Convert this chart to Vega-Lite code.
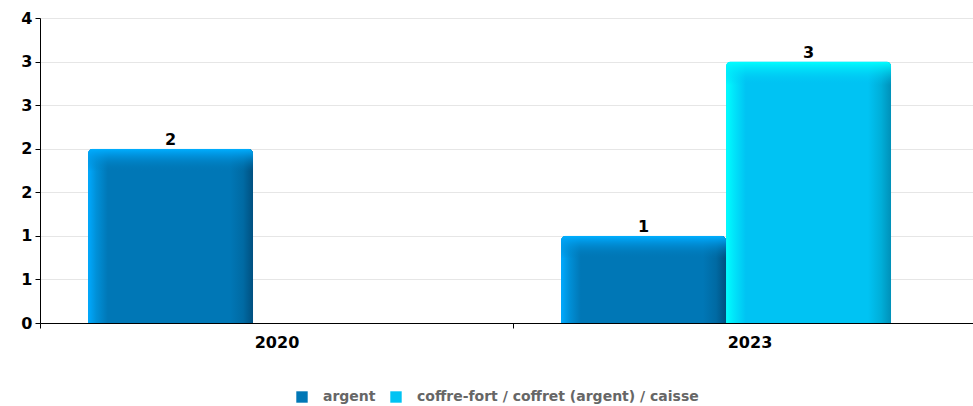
{
  "$schema": "https://vega.github.io/schema/vega-lite/v6.json",
  "autosize": "none",
  "width": 933,
  "height": 305,
  "padding": {"left": 40, "top": 18, "right": 0, "bottom": 83},
  "background": "white",
  "config": {"font": "DejaVu Sans", "view": {"stroke": null}},
  "data": {"values": [
    {"annee": "2020", "type": "argent", "valeur": 2},
    {"annee": "2023", "type": "argent", "valeur": 1},
    {"annee": "2023", "type": "coffre-fort / coffret (argent) / caisse", "valeur": 3}
  ]},
  "encoding": {
    "x": {"field": "annee", "type": "nominal", "scale": {"paddingInner": 0, "paddingOuter": 0, "range": [0, 946]},
      "axis": {"title": null, "labelAngle": 0, "labelFontWeight": "bold", "labelFontSize": 16, "labelColor": "black", "labelPadding": 6, "tickBand": "extent", "tickSize": 5, "tickColor": "black", "domainColor": "black", "grid": false}},
    "xOffset": {"field": "type", "type": "nominal", "scale": {"domain": ["argent", "coffre-fort / coffret (argent) / caisse"], "paddingInner": 0, "paddingOuter": 0.433, "align": 0.336}},
    "y": {"field": "valeur", "type": "quantitative", "scale": {"domain": [0, 3.5], "nice": false},
      "axis": {"title": null, "values": [0, 0.5, 1, 1.5, 2, 2.5, 3, 3.5], "labelExpr": "'' + round(datum.value)", "labelFontWeight": "bold", "labelFontSize": 16, "labelColor": "black", "labelPadding": 3, "tickSize": 5, "tickColor": "black", "domainColor": "black", "gridColor": "#e6e6e6", "labelOverlap": false}}
  },
  "layer": [
    {"mark": {"type": "bar", "cornerRadiusTopLeft": 5, "cornerRadiusTopRight": 5},
     "encoding": {"color": {"field": "type", "type": "nominal",
       "scale": {"domain": ["argent", "coffre-fort / coffret (argent) / caisse"], "range": ["#0077b6", "#00c3f3"]},
       "legend": {"orient": "none", "direction": "horizontal", "legendX": 255, "legendY": 372, "title": null, "symbolType": "square", "symbolSize": 130, "symbolStrokeWidth": 0, "labelFontWeight": "bold", "labelFontSize": 14, "labelColor": "#666666", "labelLimit": 0, "columnPadding": 13, "labelOffset": 14}}}},
    {"transform": [{"filter": "datum.type === 'argent'"}],
     "mark": {"type": "bar", "cornerRadiusTopLeft": 5, "cornerRadiusTopRight": 5,
       "color": {"gradient": "linear", "x1": 0, "y1": 0, "x2": 1, "y2": 0, "stops": [
         {"offset": 0, "color": "#00aaff"}, {"offset": 0.05, "color": "#0090d8"}, {"offset": 0.12, "color": "#0077b6"},
         {"offset": 0.86, "color": "#0077b6"}, {"offset": 0.94, "color": "#006aa3"}, {"offset": 1, "color": "#005080"}]}}},
    {"transform": [{"filter": "datum.type !== 'argent'"}],
     "mark": {"type": "bar", "cornerRadiusTopLeft": 5, "cornerRadiusTopRight": 5,
       "color": {"gradient": "linear", "x1": 0, "y1": 0, "x2": 1, "y2": 0, "stops": [
         {"offset": 0, "color": "#00ffff"}, {"offset": 0.05, "color": "#00e4fa"}, {"offset": 0.12, "color": "#00c3f3"},
         {"offset": 0.86, "color": "#00c3f3"}, {"offset": 0.94, "color": "#00aed8"}, {"offset": 1, "color": "#0090b8"}]}}},
    {"transform": [{"filter": "datum.type === 'argent' && datum.annee === '2020'"}],
     "mark": {"type": "bar", "cornerRadiusTopLeft": 5, "cornerRadiusTopRight": 5,
       "color": {"gradient": "linear", "x1": 0, "y1": 0, "x2": 0, "y2": 1, "stops": [
         {"offset": 0, "color": "rgba(0,175,255,1)"}, {"offset": 0.03, "color": "rgba(0,160,240,0.8)"}, {"offset": 0.13, "color": "rgba(0,119,182,0)"}, {"offset": 1, "color": "rgba(0,119,182,0)"}]}}},
    {"transform": [{"filter": "datum.type === 'argent' && datum.annee === '2023'"}],
     "mark": {"type": "bar", "cornerRadiusTopLeft": 5, "cornerRadiusTopRight": 5,
       "color": {"gradient": "linear", "x1": 0, "y1": 0, "x2": 0, "y2": 1, "stops": [
         {"offset": 0, "color": "rgba(0,175,255,1)"}, {"offset": 0.06, "color": "rgba(0,160,240,0.8)"}, {"offset": 0.26, "color": "rgba(0,119,182,0)"}, {"offset": 1, "color": "rgba(0,119,182,0)"}]}}},
    {"transform": [{"filter": "datum.type !== 'argent'"}],
     "mark": {"type": "bar", "cornerRadiusTopLeft": 5, "cornerRadiusTopRight": 5,
       "color": {"gradient": "linear", "x1": 0, "y1": 0, "x2": 0, "y2": 1, "stops": [
         {"offset": 0, "color": "rgba(0,255,255,1)"}, {"offset": 0.02, "color": "rgba(0,240,252,0.8)"}, {"offset": 0.09, "color": "rgba(0,195,243,0)"}, {"offset": 1, "color": "rgba(0,195,243,0)"}]}}},
    {"mark": {"type": "text", "baseline": "bottom", "dy": -1, "fontWeight": "bold", "fontSize": 16, "color": "black"},
     "encoding": {"text": {"field": "valeur", "type": "quantitative"}}}
  ]
}
